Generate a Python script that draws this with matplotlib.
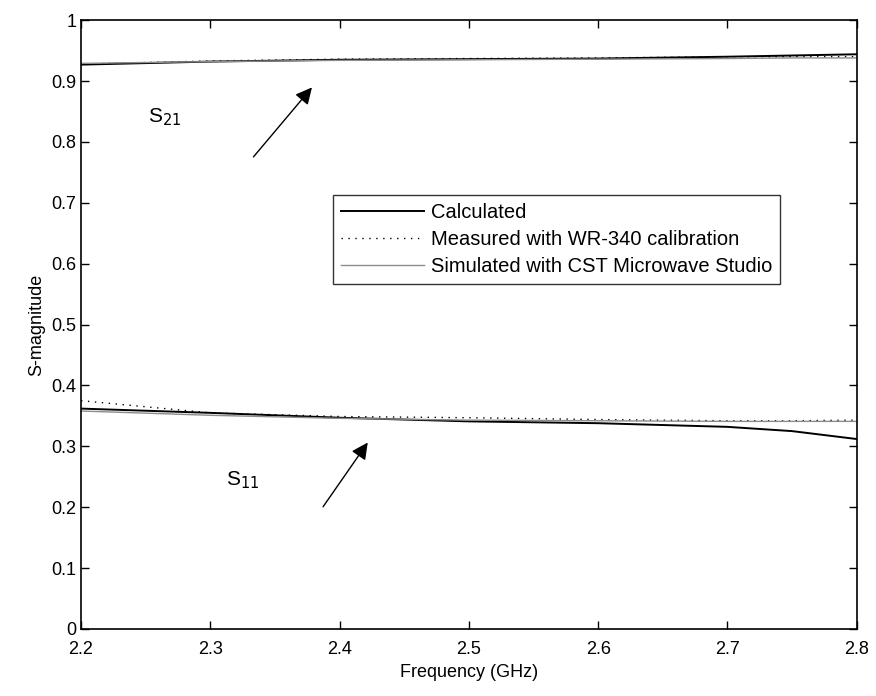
import numpy as np
import matplotlib
matplotlib.use("Agg")
import matplotlib.pyplot as plt

plt.rcParams['font.family'] = ['Liberation Sans', 'DejaVu Sans']

freq = [2.2, 2.3, 2.4, 2.5, 2.6, 2.7, 2.75, 2.8]

# S21
s21_calc = [0.927, 0.932, 0.935, 0.936, 0.937, 0.940, 0.942, 0.944]
s21_meas = [0.928, 0.933, 0.936, 0.937, 0.938, 0.940, 0.940, 0.940]
s21_sim  = [0.929, 0.932, 0.934, 0.935, 0.936, 0.937, 0.938, 0.938]

# S11
s11_calc = [0.362, 0.355, 0.347, 0.341, 0.338, 0.332, 0.325, 0.312]
s11_meas = [0.375, 0.355, 0.349, 0.347, 0.344, 0.342, 0.342, 0.343]
s11_sim  = [0.358, 0.351, 0.346, 0.343, 0.342, 0.341, 0.341, 0.341]

fig = plt.figure(figsize=(8.76, 6.96), dpi=100)
ax = fig.add_axes([0.0925, 0.0963, 0.8855, 0.8747])

ax.plot(freq, s21_calc, color='black', lw=1.4, label='Calculated')
ax.plot(freq, s21_meas, color='black', lw=1.0, ls=(0, (1, 4)),
        label='Measured with WR-340 calibration')
ax.plot(freq, s21_sim, color='#8c8c8c', lw=1.0,
        label='Simulated with CST Microwave Studio')
ax.plot(freq, s11_calc, color='black', lw=1.4)
ax.plot(freq, s11_meas, color='black', lw=1.0, ls=(0, (1, 4)))
ax.plot(freq, s11_sim, color='#8c8c8c', lw=1.0)

ax.set_xlim(2.2, 2.8)
ax.set_ylim(0, 1)
ax.set_xticks([2.2, 2.3, 2.4, 2.5, 2.6, 2.7, 2.8])
ax.set_yticks(np.arange(0, 1.01, 0.1))
ax.set_yticklabels(['0', '0.1', '0.2', '0.3', '0.4', '0.5', '0.6',
                    '0.7', '0.8', '0.9', '1'])
ax.tick_params(direction='in', top=True, right=True, length=6,
               labelsize=13, width=1)
ax.tick_params(axis='x', pad=9)
for s in ax.spines.values():
    s.set_linewidth(1.2)
ax.set_xlabel('Frequency (GHz)', fontsize=13, labelpad=4)
ax.set_ylabel('S-magnitude', fontsize=13)

arrow = dict(arrowstyle='-|>', color='black', lw=1.0, mutation_scale=25)
ax.annotate('', xy=(2.380, 0.893), xytext=(2.332, 0.772), arrowprops=arrow)
ax.annotate('', xy=(2.423, 0.31), xytext=(2.386, 0.197), arrowprops=arrow)
ax.text(2.265, 0.84, r'S$_{21}$', fontsize=15, ha='center', va='center')
ax.text(2.325, 0.244, r'S$_{11}$', fontsize=15, ha='center', va='center')

leg = ax.legend(loc='upper left', bbox_to_anchor=(0.325, 0.713),
                fontsize=14.5, frameon=True, fancybox=False,
                edgecolor='black', handlelength=4.1, borderpad=0.4,
                labelspacing=0.4, handletextpad=0.35, borderaxespad=0)
leg.get_frame().set_linewidth(1.0)

fig.savefig('out.png', dpi=100)
